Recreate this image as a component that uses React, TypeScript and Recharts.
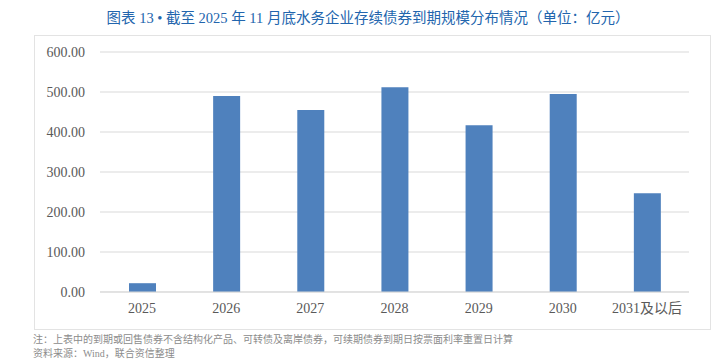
import { BarChart, Bar, XAxis, YAxis, CartesianGrid } from "recharts";

const years = ["2025", "2026", "2027", "2028", "2029", "2030", "2031及以后"];
const amounts = [22, 490, 455, 512, 417, 495, 247];
const yTicks = [0, 100, 200, 300, 400, 500, 600];

const data = years.map((year, i) => ({ year, amount: amounts[i] }));

const serif = '"Times New Roman", "Liberation Serif", "Noto Sans CJK SC", serif';

export default function App() {
  return (
    <div style={{ position: "absolute", left: 0, top: 0, width: 718, height: 363, background: "#fff", fontFamily: serif }}>
      <div style={{ position: "absolute", left: 0, top: 6, width: 736, textAlign: "center", fontSize: 14.5, color: "#2265ad" }}>
        图表 13 • 截至 2025 年 11 月底水务企业存续债券到期规模分布情况（单位：亿元）
      </div>
      <div style={{ position: "absolute", left: 34, top: 35, width: 677, height: 295, border: "1px solid #e3e3e3", boxSizing: "border-box" }}>
        <BarChart width={675} height={293} data={data} margin={{ top: 16, right: 21, bottom: 7, left: 0 }}>
          <CartesianGrid vertical={false} stroke="#d9d9d9" />
          <XAxis
            dataKey="year"
            height={30}
            tickLine={false}
            axisLine={{ stroke: "#d9d9d9" }}
            tick={{ fill: "#595959", fontSize: 14, fontFamily: serif }}
            tickMargin={5}
            interval={0}
          />
          <YAxis
            width={65}
            domain={[0, 600]}
            ticks={yTicks}
            tickLine={false}
            axisLine={false}
            tickMargin={9}
            tickFormatter={(v: number) => v.toFixed(2)}
            tick={{ fill: "#595959", fontSize: 14, fontFamily: serif }}
          />
          <Bar dataKey="amount" fill="#4f81bd" barSize={27} isAnimationActive={false} />
        </BarChart>
      </div>
      <div style={{ position: "absolute", left: 33, top: 333, fontSize: 10, color: "#8c8c8c", lineHeight: "14px" }}>
        <div>注：上表中的到期或回售债券不含结构化产品、可转债及离岸债券，可续期债券到期日按票面利率重置日计算</div>
        <div>资料来源：Wind，联合资信整理</div>
      </div>
    </div>
  );
}
